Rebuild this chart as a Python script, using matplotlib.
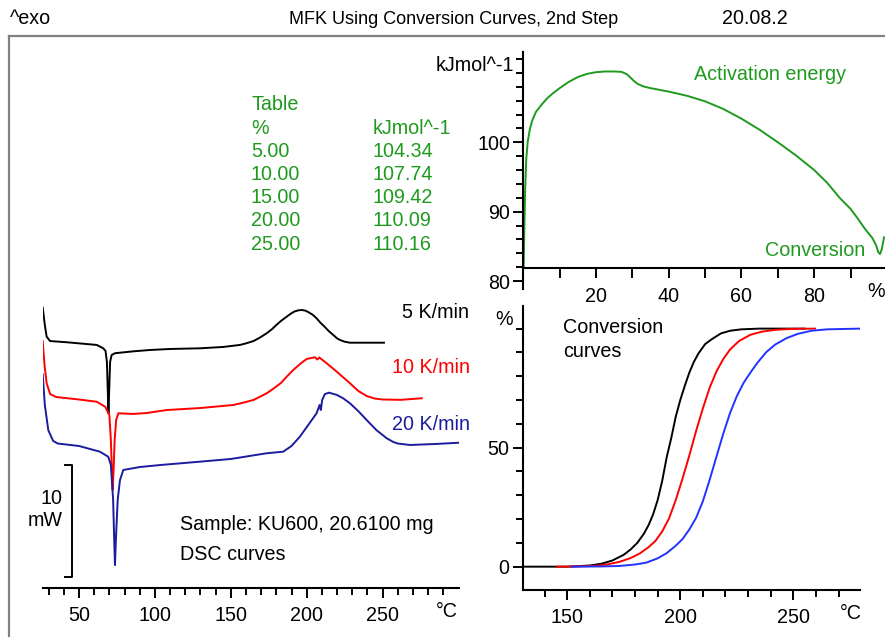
import matplotlib
matplotlib.use('Agg')
import matplotlib.pyplot as plt
from matplotlib.ticker import FixedLocator
from matplotlib.lines import Line2D

# ---------------- data ----------------
# DSC curves: temperature (°C) and heat flow (mW, arbitrary offset)
dsc5_T = [26.1, 27.5, 28.7, 30.9, 41.9, 61.7, 66.0, 67.5, 68.4, 69.0, 69.4, 69.9, 70.5, 71.5,
          73.7, 85, 96.8, 110, 129.7, 145, 156, 160, 165, 169, 173.6, 177, 180, 183.5, 186.8,
          189.5, 192, 194.5, 196.7, 199, 201, 204, 206.5, 209, 212, 214.5, 217.5, 220, 222,
          225, 228.5, 250.9]
dsc5_mW = [24.94, 23.39, 22.35, 21.96, 21.85, 21.61, 21.31, 21.07, 20.09, 17.41, 15.51, 17.59,
           20.09, 20.71, 20.87, 21.03, 21.16, 21.25, 21.31, 21.43, 21.61, 21.75, 21.96, 22.25,
           22.65, 23.0, 23.39, 23.8, 24.13, 24.4, 24.60, 24.7, 24.73, 24.68, 24.55, 24.3, 23.99,
           23.6, 23.21, 22.85, 22.50, 22.2, 22.05, 21.9, 21.81, 21.81]

dsc10_T = [26.1, 27.3, 28.7, 31.0, 35, 50, 61.7, 67.2, 70.0, 71.0, 71.8, 72.2, 72.8, 73.5, 74.5,
           75.9, 85.8, 95, 107.8, 130, 151.7, 158, 165, 173.6, 178, 183, 187, 191.2, 196, 200,
           205.5, 207, 208.3, 213.2, 220, 228.5, 234, 239.5, 245, 250, 262, 275.8]
dsc10_mW = [21.96, 19.82, 18.19, 17.23, 16.96, 16.74, 16.54, 16.10, 15.36, 13.13, 10.00, 8.66,
            10.45, 13.13, 14.91, 15.51, 15.45, 15.54, 15.80, 15.98, 16.25, 16.45, 16.70, 17.29,
            17.7, 18.21, 18.8, 19.38, 19.95, 20.36, 20.51, 20.31, 20.49, 19.97, 19.20, 18.19,
            17.5, 17.05, 16.82, 16.74, 16.71, 16.85]

dsc20_T = [26.1, 27.5, 29.8, 33, 36, 50, 63.8, 69.3, 71, 72.5, 73.2, 73.7, 74.3, 75.5, 77, 79.2,
           90, 103.4, 129.7, 150, 173.6, 184.5, 190, 195.5, 201, 206.5, 208.5, 209.3, 210.2, 212,
           214.8, 220, 224, 228.5, 234, 239.5, 246, 252.7, 257, 260, 268, 285, 300]
dsc20_mW = [18.99, 16.25, 13.99, 13.04, 12.81, 12.59, 12.08, 11.63, 10.89, 7.77, 4.20, 1.96, 4.20,
            7.77, 9.55, 10.45, 10.71, 10.89, 11.19, 11.43, 11.94, 12.08, 12.59, 13.42, 14.46,
            15.51, 16.25, 15.80, 16.70, 17.23, 17.35, 17.14, 16.85, 16.40, 15.7, 14.91, 14.0,
            13.28, 12.95, 12.81, 12.68, 12.77, 12.88]

# Activation energy (kJ/mol) vs conversion (%)
ea_conv = [0.1, 0.3, 0.5, 0.8, 1.2, 1.8, 2.5, 3.5, 5, 6.5, 8, 10, 12.5, 15, 17.5, 20, 22.5, 25,
           27, 28.5, 29.5, 30.5, 31.5, 33, 35, 37.5, 40, 45, 50, 55, 60, 65, 70, 75, 80, 83.5,
           87, 90, 92, 94, 96, 97, 97.6, 98.1, 98.6, 99.2]
ea_val = [81.9, 88.0, 93.0, 97.5, 100.0, 101.9, 103.2, 104.4, 105.4, 106.3, 107.0, 107.8, 108.7,
          109.4, 109.85, 110.1, 110.2, 110.2, 110.15, 109.8, 109.3, 108.8, 108.4, 108.05, 107.8,
          107.55, 107.3, 106.7, 105.9, 104.8, 103.4, 101.8, 100.0, 98.1, 96.0, 94.2, 92.0,
          90.4, 89.0, 87.5, 86.2, 85.2, 84.2, 83.9, 84.6, 86.3]

# Conversion curves (°C, %)
c5_T = [130.3, 150, 160, 165, 170, 175, 178, 181, 184, 186, 188, 190, 192, 194, 196, 198, 200,
        202, 204, 206, 208, 211, 214, 218, 222, 227, 235, 255]
c5_p = [0, 0, 0.5, 1.2, 2.6, 5.0, 7.2, 10, 14, 17.5, 22, 28, 36, 46, 54, 63, 70, 76, 81.5, 86,
        89.5, 93.5, 95.6, 98.0, 99.1, 99.7, 100, 100]
c10_T = [145.3, 155, 163, 168, 173, 178, 182, 186, 189, 192, 195, 198, 201, 204, 207, 210, 213,
         216, 219, 222, 226, 231, 236, 242, 250, 259.6]
c10_p = [0, 0.1, 0.4, 1.0, 2.0, 3.6, 5.5, 8.2, 10.8, 14.8, 20.2, 28, 37, 46.7, 57, 66.5, 75.2,
         82, 87.2, 91.2, 94.8, 97.4, 98.7, 99.5, 99.9, 100]
c20_T = [152, 165, 173, 180, 185, 190, 194, 198, 201, 204, 207, 210, 213, 216, 219, 222, 225,
         228, 231, 234, 238, 242, 247, 252, 258, 265, 279.5]
c20_p = [0, 0.1, 0.3, 0.9, 1.7, 3.5, 5.7, 8.8, 11.6, 15.6, 20.5, 27.5, 36.5, 46.2, 55.8, 64.5,
         71.6, 77.2, 81.5, 85.5, 90.1, 93.3, 96.0, 97.8, 99.1, 99.7, 100]

table_conv = ["5.00", "10.00", "15.00", "20.00", "25.00"]
table_ea = ["104.34", "107.74", "109.42", "110.09", "110.16"]

rates = ["5 K/min", "10 K/min", "20 K/min"]

# ---------------- style ----------------
W, H = 885, 637
plt.rcParams['font.family'] = ['Liberation Sans', 'DejaVu Sans']
FS = 14.2
FS_TITLE = 13
GREEN = '#1f9a1f'
NAVY = '#1c1c9e'
BLUE = '#2233ff'
RED = '#ff0000'
LW = 1.4

fig = plt.figure(figsize=(W / 100, H / 100), dpi=100)


def fx(x):
    return x / W


def fy(y):
    return 1 - y / H


def style_ticks(ax, axis, length_major=7, length_minor=5, pad=5):
    ax.tick_params(axis=axis, which='major', length=length_major, width=1.4, pad=pad,
                   labelsize=FS, direction='out')
    ax.tick_params(axis=axis, which='minor', length=length_minor, width=1.4, direction='out')


# frame
fig.add_artist(Line2D([fx(8.5), fx(8.5)], [fy(35.5), fy(640)], color='#808080', lw=1.6,
                      transform=fig.transFigure))
fig.add_artist(Line2D([fx(8.5), fx(890)], [fy(35.5), fy(35.5)], color='#808080', lw=1.6,
                      transform=fig.transFigure))

fig.text(fx(10), fy(24), '^exo', ha='left', va='baseline', fontsize=FS)
fig.text(fx(454), fy(24), 'MFK Using Conversion Curves, 2nd Step', ha='center',
         va='baseline', fontsize=FS_TITLE)
fig.text(fx(722), fy(24), '20.08.2', ha='left', va='baseline', fontsize=FS)

# ---------------- DSC axes ----------------
ax1 = fig.add_axes([42.7 / W, 1 - 587.7 / H, (458.5 - 42.7) / W, (587.7 - 270) / H])
ax1.plot(dsc5_T, dsc5_mW, color='black', lw=LW)
ax1.plot(dsc10_T, dsc10_mW, color=RED, lw=LW)
ax1.plot(dsc20_T, dsc20_mW, color=NAVY, lw=LW)
ax1.set_xlim(26.1, 300)
ax1.set_ylim(-0.06, 28.3)
for s in ['left', 'right', 'top']:
    ax1.spines[s].set_visible(False)
ax1.spines['bottom'].set_linewidth(1.5)
ax1.set_yticks([])
ax1.xaxis.set_major_locator(FixedLocator([50, 100, 150, 200, 250]))
ax1.xaxis.set_minor_locator(FixedLocator([30, 40, 60, 70, 80, 90, 110, 120, 130, 140, 160, 170,
                                          180, 190, 210, 220, 230, 240, 260, 270, 280, 290]))
style_ticks(ax1, 'x', pad=6)
ax1.patch.set_alpha(0)
# 10 mW scale bar
ax1.plot([40.8, 45.4, 45.4, 40.8], [10.89, 10.89, 0.89, 0.89], color='black', lw=1.4,
         clip_on=False)
fig.text(fx(63), fy(510), '10\nmW', ha='right', va='center', fontsize=FS, linespacing=1.2,
         multialignment='right')
fig.text(fx(458), fy(617), '°C', ha='right', va='baseline', fontsize=FS)

fig.text(fx(469), fy(318), rates[0], ha='right', va='baseline', fontsize=FS, color='black')
fig.text(fx(470), fy(373), rates[1], ha='right', va='baseline', fontsize=FS, color=RED)
fig.text(fx(470), fy(430), rates[2], ha='right', va='baseline', fontsize=FS, color=NAVY)

fig.text(fx(180), fy(530), 'Sample: KU600, 20.6100 mg', ha='left', va='baseline', fontsize=FS)
fig.text(fx(180), fy(560), 'DSC curves', ha='left', va='baseline', fontsize=FS)

# table
fig.text(fx(251), fy(110.5), 'Table', ha='left', va='baseline', fontsize=FS, color=GREEN)
fig.text(fx(251), fy(133.5), '%', ha='left', va='baseline', fontsize=FS, color=GREEN)
fig.text(fx(373), fy(133.5), 'kJmol^-1', ha='left', va='baseline', fontsize=FS, color=GREEN)
for i, (c, e) in enumerate(zip(table_conv, table_ea)):
    yb = 156.7 + i * 23.2
    fig.text(fx(251), fy(yb), c, ha='left', va='baseline', fontsize=FS, color=GREEN)
    fig.text(fx(373), fy(yb), e, ha='left', va='baseline', fontsize=FS, color=GREEN)

# ---------------- Activation energy axes ----------------
ax2 = fig.add_axes([523.3 / W, 1 - 289 / H, (884 - 523.3) / W, (289 - 51.7) / H])
ax2.plot(ea_conv, ea_val, color=GREEN, lw=LW, clip_on=False)
ax2.set_xlim(0, 99.2)
ax2.set_ylim(78.86, 113.05)
for s in ['right', 'top']:
    ax2.spines[s].set_visible(False)
ax2.spines['bottom'].set_position(('data', 81.9))
ax2.spines['bottom'].set_linewidth(1.5)
ax2.spines['left'].set_linewidth(1.5)
ax2.xaxis.set_major_locator(FixedLocator([20, 40, 60, 80]))
ax2.xaxis.set_minor_locator(FixedLocator([10, 30, 50, 70, 90]))
ax2.yaxis.set_major_locator(FixedLocator([80, 90, 100]))
ax2.yaxis.set_minor_locator(FixedLocator([82, 84, 86, 88, 92, 94, 96, 98, 102, 104, 106, 108,
                                          110, 112]))
style_ticks(ax2, 'x', length_minor=7, pad=7)
style_ticks(ax2, 'y', pad=2.5)
ax2.patch.set_alpha(0)
fig.text(fx(876), fy(297), '%', ha='center', va='baseline', fontsize=FS)
fig.text(fx(514), fy(71), 'kJmol^-1', ha='right', va='baseline', fontsize=FS)
fig.text(fx(694), fy(80.5), 'Activation energy', ha='left', va='baseline', fontsize=FS,
         color=GREEN)
fig.text(fx(765), fy(256), 'Conversion', ha='left', va='baseline', fontsize=FS, color=GREEN)

# ---------------- Conversion axes ----------------
ax3 = fig.add_axes([522.7 / W, 1 - 590 / H, (860 - 522.7) / W, (590 - 306) / H])
ax3.plot(c5_T, c5_p, color='black', lw=LW)
ax3.plot(c10_T, c10_p, color=RED, lw=LW)
ax3.plot(c20_T, c20_p, color=BLUE, lw=LW)
ax3.set_xlim(130.3, 279.5)
ax3.set_ylim(-9.8, 109.5)
for s in ['right', 'top']:
    ax3.spines[s].set_visible(False)
ax3.spines['bottom'].set_linewidth(1.5)
ax3.spines['left'].set_linewidth(1.5)
ax3.xaxis.set_major_locator(FixedLocator([150, 200, 250]))
ax3.xaxis.set_minor_locator(FixedLocator([140, 160, 170, 180, 190, 210, 220, 230, 240, 260,
                                          270]))
ax3.yaxis.set_major_locator(FixedLocator([0, 50]))
ax3.yaxis.set_minor_locator(FixedLocator([-10, 10, 20, 30, 40, 60, 70, 80, 90, 100]))
style_ticks(ax3, 'x', pad=6)
style_ticks(ax3, 'y', pad=2.5)
ax3.patch.set_alpha(0)
fig.text(fx(513), fy(325), '%', ha='right', va='baseline', fontsize=FS)
fig.text(fx(862), fy(619), '°C', ha='right', va='baseline', fontsize=FS)
fig.text(fx(563), fy(333), 'Conversion', ha='left', va='baseline', fontsize=FS)
fig.text(fx(563), fy(357), 'curves', ha='left', va='baseline', fontsize=FS)

fig.savefig('out.png', dpi=100)
